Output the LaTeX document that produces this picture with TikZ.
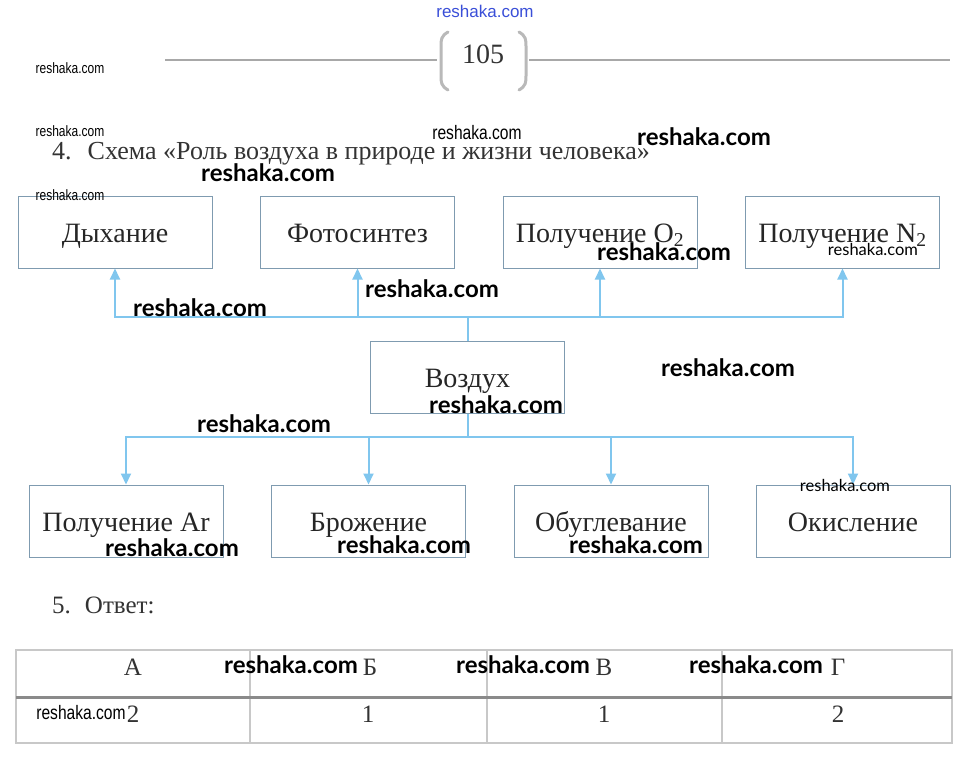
\documentclass[tikz,border=0pt]{standalone}
\usepackage{fontspec}
\setmainfont{Liberation Serif}
\newfontfamily\wmfont{Lato}
\newfontfamily\wmsmallfont{Liberation Sans}
\usetikzlibrary{arrows.meta}
\definecolor{boxc}{HTML}{7F9BB0}
\definecolor{arrc}{HTML}{80C6EE}
\definecolor{tabc}{HTML}{C8C8C8}
\definecolor{tabd}{HTML}{8A8A8A}
\definecolor{hdrc}{HTML}{A8A8A8}
\definecolor{wmblue}{HTML}{3A4FD8}
\newcommand{\wmcond}[1]{\scalebox{0.8}[1]{#1}}
\begin{document}
\begin{tikzpicture}[x=1pt,y=-1pt,
  box/.style={draw=boxc, line width=1pt, minimum width=194pt, minimum height=72pt, inner sep=0pt,
    text height=20pt, text depth=0pt,
    font=\fontsize{28}{32}\selectfont, text=black!85},
  conn/.style={draw=arrc, line width=2pt},
  arr/.style={conn, -{Triangle[width=10pt,length=11pt]}},
  wmbig/.style={font=\wmfont\bfseries\fontsize{24}{27}\selectfont, inner sep=0pt},
  wmsm/.style={font=\wmsmallfont\fontsize{15}{17}\selectfont, inner sep=0pt},
  wmmid/.style={font=\wmsmallfont\fontsize{19.5}{22}\selectfont, inner sep=0pt},
  wmlato/.style={font=\wmfont\fontsize{16.5}{19}\selectfont, inner sep=0pt},
  plain/.style={inner sep=0pt, text=black!80},
  hdr/.style={draw=hdrc, line width=2pt},
  brk/.style={draw=hdrc!80, line width=3pt, line cap=round},
  tabline/.style={draw=tabc, line width=1.2pt},
]
\useasboundingbox (0,0) rectangle (970,758);
\fill[white] (0,0) rectangle (970,758);

% header
\draw[hdr] (165,60) -- (437,60);
\draw[hdr] (529,60) -- (950,60);
\draw[brk] (448,32) .. controls (441,36) and (441,40) .. (441,46) -- (441,76) .. controls (441,82) and (441,86) .. (448,90);
\draw[brk] (519,32) .. controls (526,36) and (526,40) .. (526,46) -- (526,76) .. controls (526,82) and (526,86) .. (519,90);
\node[plain, font=\fontsize{28}{32}\selectfont] (page) at (483,54) {105};

\node[plain, anchor=base west, font=\fontsize{26}{30}\selectfont] (title) at (52,159) {4.\hspace{16pt}Схема «Роль воздуха в природе и жизни человека»};

% boxes
\node[box] (dyh) at (115,232) {Дыхание};
\node[box] (foto) at (357.5,232) {Фотосинтез};
\node[box] (oxy) at (600,232) {Получение O\textsubscript{2}};
\node[box] (nit) at (842.5,232) {Получение N\textsubscript{2}};
\node[box] (air) at (467.5,377) {Воздух};
\node[box] (ar) at (126,521) {Получение Ar};
\node[box] (ferm) at (368.5,521) {Брожение};
\node[box] (carb) at (611,521) {Обуглевание};
\node[box] (oxid) at (853,521) {Окисление};

\coordinate (jt) at (467.5,317);
\coordinate (jb) at (467.5,437);
\draw[conn] (air.north) -- (jt);
\draw[arr] (jt) -| (dyh.south);
\draw[arr] (jt) -| (foto.south);
\draw[arr] (jt) -| (oxy.south);
\draw[arr] (jt) -| (nit.south);
\draw[conn] (air.south) -- (jb);
\draw[arr] (jb) -| (ar.north);
\draw[arr] (jb) -| (ferm.north);
\draw[arr] (jb) -| (carb.north);
\draw[arr] (jb) -| (oxid.north);

% answer
\node[plain, anchor=base west, font=\fontsize{25}{29}\selectfont] (ans) at (52,613) {5.\hspace{14pt}Ответ:};
\draw[tabline] (16,650) rectangle (952,743);
\draw[tabline] (250,650) -- (250,743);
\draw[tabline] (487,650) -- (487,743);
\draw[tabline] (722,650) -- (722,743);
\draw[draw=tabd, line width=3pt] (16,697) -- (952,697);
\begin{scope}[every node/.style={plain, font=\fontsize{25}{29}\selectfont}]
\node (ha) at (133,667) {А};
\node (hb) at (370,667) {Б};
\node (hc) at (604,667) {В};
\node (hd) at (838,667) {Г};
\node (va) at (133,714) {2};
\node (vb) at (368,714) {1};
\node (vc) at (604,714) {1};
\node (vd) at (838,714) {2};
\end{scope}

% watermarks
\node[wmsm, font=\wmsmallfont\fontsize{17}{19}\selectfont, text=wmblue] (w0) at (485,11) {reshaka.com};
\node[wmsm] (w1) at (70,68) {\wmcond{reshaka.com}};
\node[wmsm] (w2) at (70,131) {\wmcond{reshaka.com}};
\node[wmmid] (w3) at (477,133) {\wmcond{reshaka.com}};
\node[wmbig] (w4) at (704,137) {reshaka.com};
\node[wmbig] (w5) at (268,173) {reshaka.com};
\node[wmsm] (w6) at (70,195) {\wmcond{reshaka.com}};
\node[wmbig] (w7) at (432,289) {reshaka.com};
\node[wmbig] (w8) at (200,308) {reshaka.com};
\node[wmbig] (w9) at (664,252) {reshaka.com};
\node[wmlato] (w10) at (873,249) {reshaka.com};
\node[wmbig] (w11) at (728,368) {reshaka.com};
\node[wmbig] (w12) at (496,405) {reshaka.com};
\node[wmbig] (w13) at (264,424) {reshaka.com};
\node[wmbig] (w14) at (172,548) {reshaka.com};
\node[wmbig] (w15) at (404,545) {reshaka.com};
\node[wmbig] (w16) at (636,545) {reshaka.com};
\node[wmlato] (w17) at (845,485) {reshaka.com};
\node[wmbig] (w18) at (291,665) {reshaka.com};
\node[wmbig] (w19) at (523,665) {reshaka.com};
\node[wmbig] (w20) at (756,665) {reshaka.com};
\node[wmmid] (w21) at (81,713) {\wmcond{reshaka.com}};
\end{tikzpicture}
\end{document}
